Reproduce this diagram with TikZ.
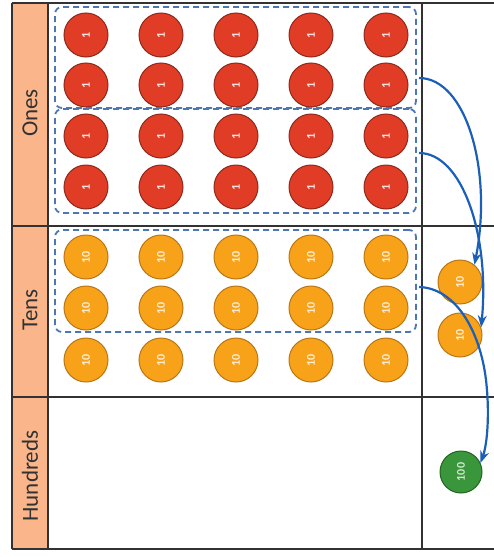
\documentclass[tikz,border=0pt]{standalone}
\usepackage{fontspec}
\setmainfont{Carlito}
\usetikzlibrary{arrows.meta}
\definecolor{labfill}{RGB}{250,182,138}
\definecolor{redc}{RGB}{224,60,38}
\definecolor{redd}{RGB}{140,42,28}
\definecolor{orc}{RGB}{247,162,24}
\definecolor{ord}{RGB}{185,118,22}
\definecolor{grc}{RGB}{58,150,58}
\definecolor{grd}{RGB}{35,100,35}
\definecolor{arrc}{RGB}{28,95,185}
\definecolor{dashc}{RGB}{78,118,178}
\definecolor{framec}{RGB}{50,50,50}
\newcommand{\chiplabel}[1]{\rotatebox{90}{#1}}
\begin{document}
\begin{tikzpicture}[x=1pt,y=-1pt,
  counter/.style={circle, line width=1pt, minimum size=44pt, inner sep=0pt,
     font=\bfseries\fontsize{12}{12}\selectfont},
  onec/.style={counter, draw=redd, fill=redc, text=white!85!redc},
  tenc/.style={counter, draw=ord, fill=orc, text=white!80!orc},
  hunc/.style={counter, draw=grd, fill=grc, text=white!75!grc, minimum size=42pt},
  dbox/.style={draw=dashc, line width=1.8pt, dash pattern=on 6pt off 4pt, rounded corners=7pt, inner sep=0pt},
  rowlabel/.style={rotate=90, text=framec, font=\fontsize{23}{23}\selectfont},
  gridline/.style={draw=framec, line width=1.3pt},
  link/.style={draw=arrc, line width=2.2pt, -{Stealth[length=12pt,width=9pt]}}
]
\useasboundingbox (0,0) rectangle (494,557);
% label column
\fill[labfill] (12,3) rectangle (48,549);
% grid
\draw[gridline] (12,3) -- (494,3);
\draw[gridline] (12,226) -- (494,226);
\draw[gridline] (12,397) -- (494,397);
\draw[gridline] (12,549) -- (494,549);
\draw[gridline] (12,3) -- (12,549);
\draw[gridline] (48,3) -- (48,549);
\draw[gridline] (422,3) -- (422,549);
% row labels
\node[rowlabel] (lones) at (30,113) {Ones};
\node[rowlabel] (ltens) at (30,310) {Tens};
\node[rowlabel] (lhund) at (30,476) {Hundreds};
% ones counters
\foreach \c [count=\i] in {86,161,236,311,386}
  \foreach \r [count=\j] in {35,85,136,187}
    \node[onec] (o\j\i) at (\c,\r) {\chiplabel{1}};
% tens counters
\foreach \c [count=\i] in {86,161,236,311,386}
  \foreach \r [count=\j] in {257,308,360}
    \node[tenc] (t\j\i) at (\c,\r) {\chiplabel{10}};
% regrouped counters
\node[tenc] (rt1) at (460,282) {\chiplabel{10}};
\node[tenc] (rt2) at (460,335) {\chiplabel{10}};
\node[hunc] (rh) at (461,472) {\chiplabel{100}};
% dashed groups
\node[dbox, minimum width=361pt, minimum height=101pt] (g1) at (235.5,57.5) {};
\node[dbox, minimum width=361pt, minimum height=104pt] (g2) at (235.5,161) {};
\node[dbox, minimum width=361pt, minimum height=102pt] (g3) at (235.5,281) {};
% arrows
\coordinate (s1) at (419,78);
\coordinate (s2) at (419,153);
\coordinate (s3) at (419,287);
\draw[link] (s1) .. controls (466,78) and (493,170) .. (rt1.50);
\draw[link] (s2) .. controls (462,153) and (490,235) .. (rt2.20);
\draw[link] (s3) .. controls (455,288) and (480,330) .. (486,380)
   .. controls (490,415) and (487,445) .. (rh.25);
\end{tikzpicture}
\end{document}
